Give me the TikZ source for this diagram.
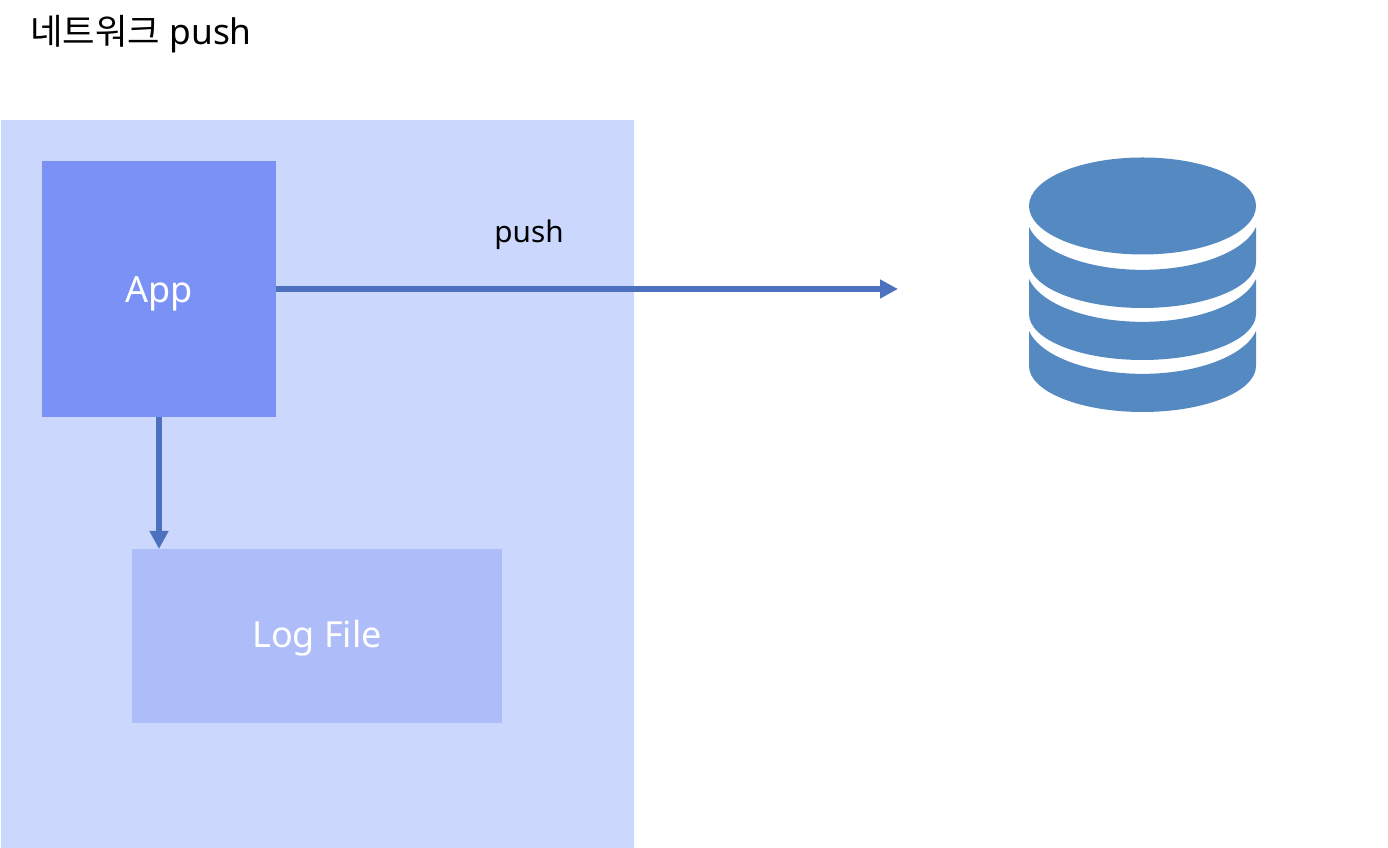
\documentclass[tikz,border=0pt]{standalone}
\usepackage{fontspec}
\setmainfont{Noto Sans}
\newfontfamily\krfont{Noto Sans CJK KR}
\usetikzlibrary{arrows.meta,positioning,calc}
\definecolor{hostblue}{RGB}{203,215,253}
\definecolor{appblue}{RGB}{122,146,246}
\definecolor{logblue}{RGB}{174,189,250}
\definecolor{arrowblue}{RGB}{78,113,191}
\definecolor{dbblue}{RGB}{85,137,194}
\tikzset{
  boxnode/.style={inner sep=0pt,outer sep=0pt,text=white,text height=24pt,text depth=6pt,font=\fontsize{27}{30}\selectfont},
  flow/.style={arrowblue,line width=4.2pt,-{Triangle[length=13.5pt,width=13.5pt]}}
}

\begin{document}
\begin{tikzpicture}[x=.75pt,y=.75pt]
\useasboundingbox (0,0) rectangle (1388,848);
\node[boxnode,fill=hostblue,minimum width=474.75pt,minimum height=546pt] (host) at (317.5,364) {};
\node[boxnode,fill=appblue,minimum width=175.5pt,minimum height=192pt,text height=27pt] (app) at (159,559) {App};
\node[boxnode,fill=logblue,minimum width=277.5pt,minimum height=130.5pt] (logfile) at (317,212) {Log File};
\node[anchor=base west,inner sep=0pt,font=\fontsize{26.5}{30}\selectfont] (title) at (30,803) {{\krfont 네트워크} push};
\node[inner sep=0pt,font=\fontsize{22.3}{26}\selectfont] (pushlabel) at (529,613.5) {push};
\coordinate (pushend) at (898,559);
\draw[flow] (app.east)--(pushend);
\draw[flow] (app.south)--(app.south|-logfile.north);
% database icon
\fill[dbblue] (1142.5,642) ellipse [x radius=113.5,y radius=48.5];
\foreach \y in {621,569,517}{\fill[dbblue] (1029,\y)--(1029,\y-35) arc[start angle=180,end angle=360,x radius=113.5,y radius=46]--(1256,\y) arc[start angle=-11.9,end angle=-168.1,x radius=116,y radius=54]--cycle;}
\end{tikzpicture}
\end{document}
